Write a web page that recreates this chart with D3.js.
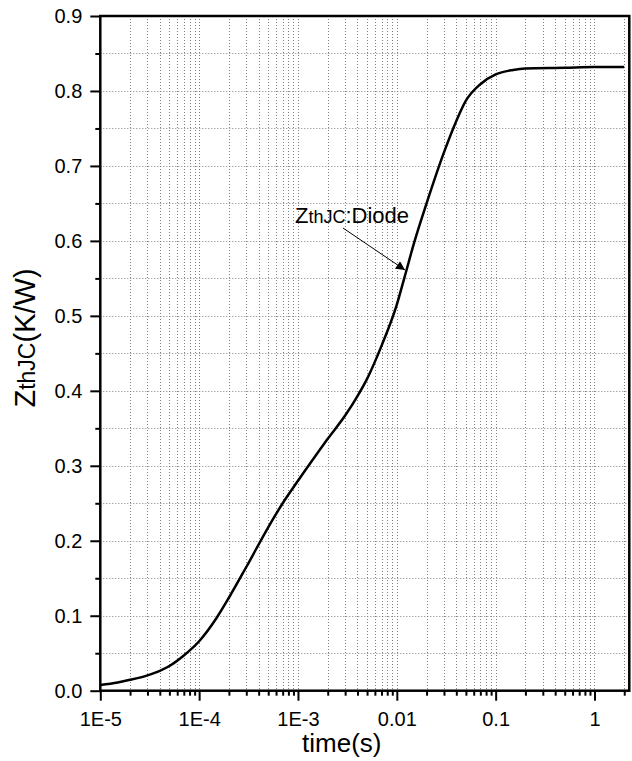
<!DOCTYPE html>
<html>
<head>
<meta charset="utf-8">
<script src="https://cdn.jsdelivr.net/npm/d3@7"></script>
<style>
  body { margin: 0; background: #fff; }
  svg text { font-family: "Liberation Sans", Arial, sans-serif; fill: #000; }
</style>
</head>
<body>
<svg width="632" height="761"></svg>
<script>
// data
var timeVals = [1e-5, 1.5e-5, 2e-5, 3e-5, 4e-5, 5e-5, 7e-5, 1e-4, 1.5e-4, 2e-4, 3e-4, 5e-4, 7e-4,
  1e-3, 1.5e-3, 2e-3, 3e-3, 4e-3, 5e-3, 7e-3, 1e-2, 1.2e-2, 1.5e-2, 2e-2,
  3e-2, 4e-2, 5e-2, 7e-2, 0.1, 0.15, 0.2, 0.5, 1, 2];
var zthVals = [0.0076, 0.011, 0.0145, 0.0205, 0.0265, 0.033, 0.047, 0.066, 0.097, 0.124, 0.165, 0.218, 0.250,
  0.280, 0.313, 0.336, 0.367, 0.393, 0.416, 0.46, 0.515, 0.552, 0.598, 0.650,
  0.718, 0.760, 0.787, 0.809, 0.822, 0.828, 0.830, 0.831, 0.832, 0.832];

var xTickVals = [1e-5, 1e-4, 1e-3, 1e-2, 1e-1, 1];
var xTickLabels = ["1E-5", "1E-4", "1E-3", "0.01", "0.1", "1"];
var yTickVals = [0, 0.1, 0.2, 0.3, 0.4, 0.5, 0.6, 0.7, 0.8, 0.9];
var yTickLabels = ["0.0", "0.1", "0.2", "0.3", "0.4", "0.5", "0.6", "0.7", "0.8", "0.9"];

var svg = d3.select("svg");
var pLeft = 100.3, pRight = 629.3, pTop = 16, pBottom = 690.7;

var x = d3.scaleLog().domain([1e-5, 2.25]).range([pLeft, pRight]);
var y = d3.scaleLinear().domain([0, 0.9]).range([pBottom, pTop]);

// minor ticks
var xMinor = [];
for (var e = -5; e <= 0; e++) {
  for (var m = 2; m <= 9; m++) {
    var v = m * Math.pow(10, e);
    if (v <= 2.25) xMinor.push(v);
  }
}
var yMinor = d3.range(0.05, 0.9, 0.1);

// grid
var grid = svg.append("g")
  .attr("stroke", "#808080")
  .attr("stroke-width", 1)
  .attr("stroke-dasharray", "1,2");

grid.selectAll(".gx")
  .data(xTickVals.slice(1).concat(xMinor))
  .enter()
  .append("line")
  .attr("x1", function(d) { return Math.round(x(d)) + 0.5; })
  .attr("x2", function(d) { return Math.round(x(d)) + 0.5; })
  .attr("y1", pTop)
  .attr("y2", pBottom);

grid.selectAll(".gy")
  .data(yTickVals.slice(1, -1).concat(yMinor))
  .enter()
  .append("line")
  .attr("y1", function(d) { return Math.round(y(d)) + 0.5; })
  .attr("y2", function(d) { return Math.round(y(d)) + 0.5; })
  .attr("x1", pLeft)
  .attr("x2", pRight);

// axes
svg.append("g")
  .attr("transform", "translate(0," + pBottom + ")")
  .call(d3.axisBottom(x).tickValues(xTickVals).tickSize(10).tickPadding(11)
    .tickFormat(function(d, i) { return xTickLabels[i]; }));
svg.append("g")
  .attr("transform", "translate(0," + pBottom + ")")
  .call(d3.axisBottom(x).tickValues(xMinor).tickSize(5).tickFormat(""));
svg.append("g")
  .attr("transform", "translate(" + pLeft + ",0)")
  .call(d3.axisLeft(y).tickValues(yTickVals).tickSize(10).tickPadding(8)
    .tickFormat(function(d, i) { return yTickLabels[i]; }));
svg.append("g")
  .attr("transform", "translate(" + pLeft + ",0)")
  .call(d3.axisLeft(y).tickValues(yMinor).tickSize(5).tickFormat(""));

svg.selectAll(".domain").remove();
svg.selectAll(".tick line").attr("stroke", "#000").attr("stroke-width", 2);
svg.selectAll(".tick text").attr("font-size", 20).attr("font-family", "Liberation Sans, Arial, sans-serif");

// frame
svg.append("rect")
  .attr("x", pLeft)
  .attr("y", pTop)
  .attr("width", pRight - pLeft)
  .attr("height", pBottom - pTop)
  .attr("fill", "none")
  .attr("stroke", "#000")
  .attr("stroke-width", 2.5);

// curve
var points = timeVals.map(function(t, i) { return [t, zthVals[i]]; });
var line = d3.line()
  .x(function(d) { return x(d[0]); })
  .y(function(d) { return y(d[1]); })
  .curve(d3.curveMonotoneX);

svg.append("path")
  .datum(points)
  .attr("d", line)
  .attr("fill", "none")
  .attr("stroke", "#000")
  .attr("stroke-width", 2.5);

// annotation
svg.append("defs").append("marker")
  .attr("id", "arrow")
  .attr("viewBox", "0 -5 10 10")
  .attr("refX", 10)
  .attr("refY", 0)
  .attr("markerWidth", 12)
  .attr("markerHeight", 9)
  .attr("markerUnits", "userSpaceOnUse")
  .attr("orient", "auto")
  .append("path")
  .attr("d", "M0,-5L10,0L0,5Z")
  .attr("fill", "#000");

svg.append("line")
  .attr("x1", 343)
  .attr("y1", 228)
  .attr("x2", 405)
  .attr("y2", 270)
  .attr("stroke", "#000")
  .attr("stroke-width", 1)
  .attr("marker-end", "url(#arrow)");

var ann = svg.append("text")
  .attr("x", 295)
  .attr("y", 223);
ann.append("tspan").attr("font-size", 22).text("Z");
ann.append("tspan").attr("font-size", 18).text("thJC");
ann.append("tspan").attr("font-size", 22).text(":Diode");

// axis titles
svg.append("text")
  .attr("x", (pLeft + pRight) / 2 - 23)
  .attr("y", 752)
  .attr("text-anchor", "middle")
  .attr("font-size", 26)
  .text("time(s)");

var yl = svg.append("text")
  .attr("transform", "translate(35,338) rotate(-90)")
  .attr("text-anchor", "middle");
yl.append("tspan").attr("font-size", 29).text("Z");
yl.append("tspan").attr("font-size", 23).text("thJC");
yl.append("tspan").attr("font-size", 29).text("(K/W)");
</script>
</body>
</html>
